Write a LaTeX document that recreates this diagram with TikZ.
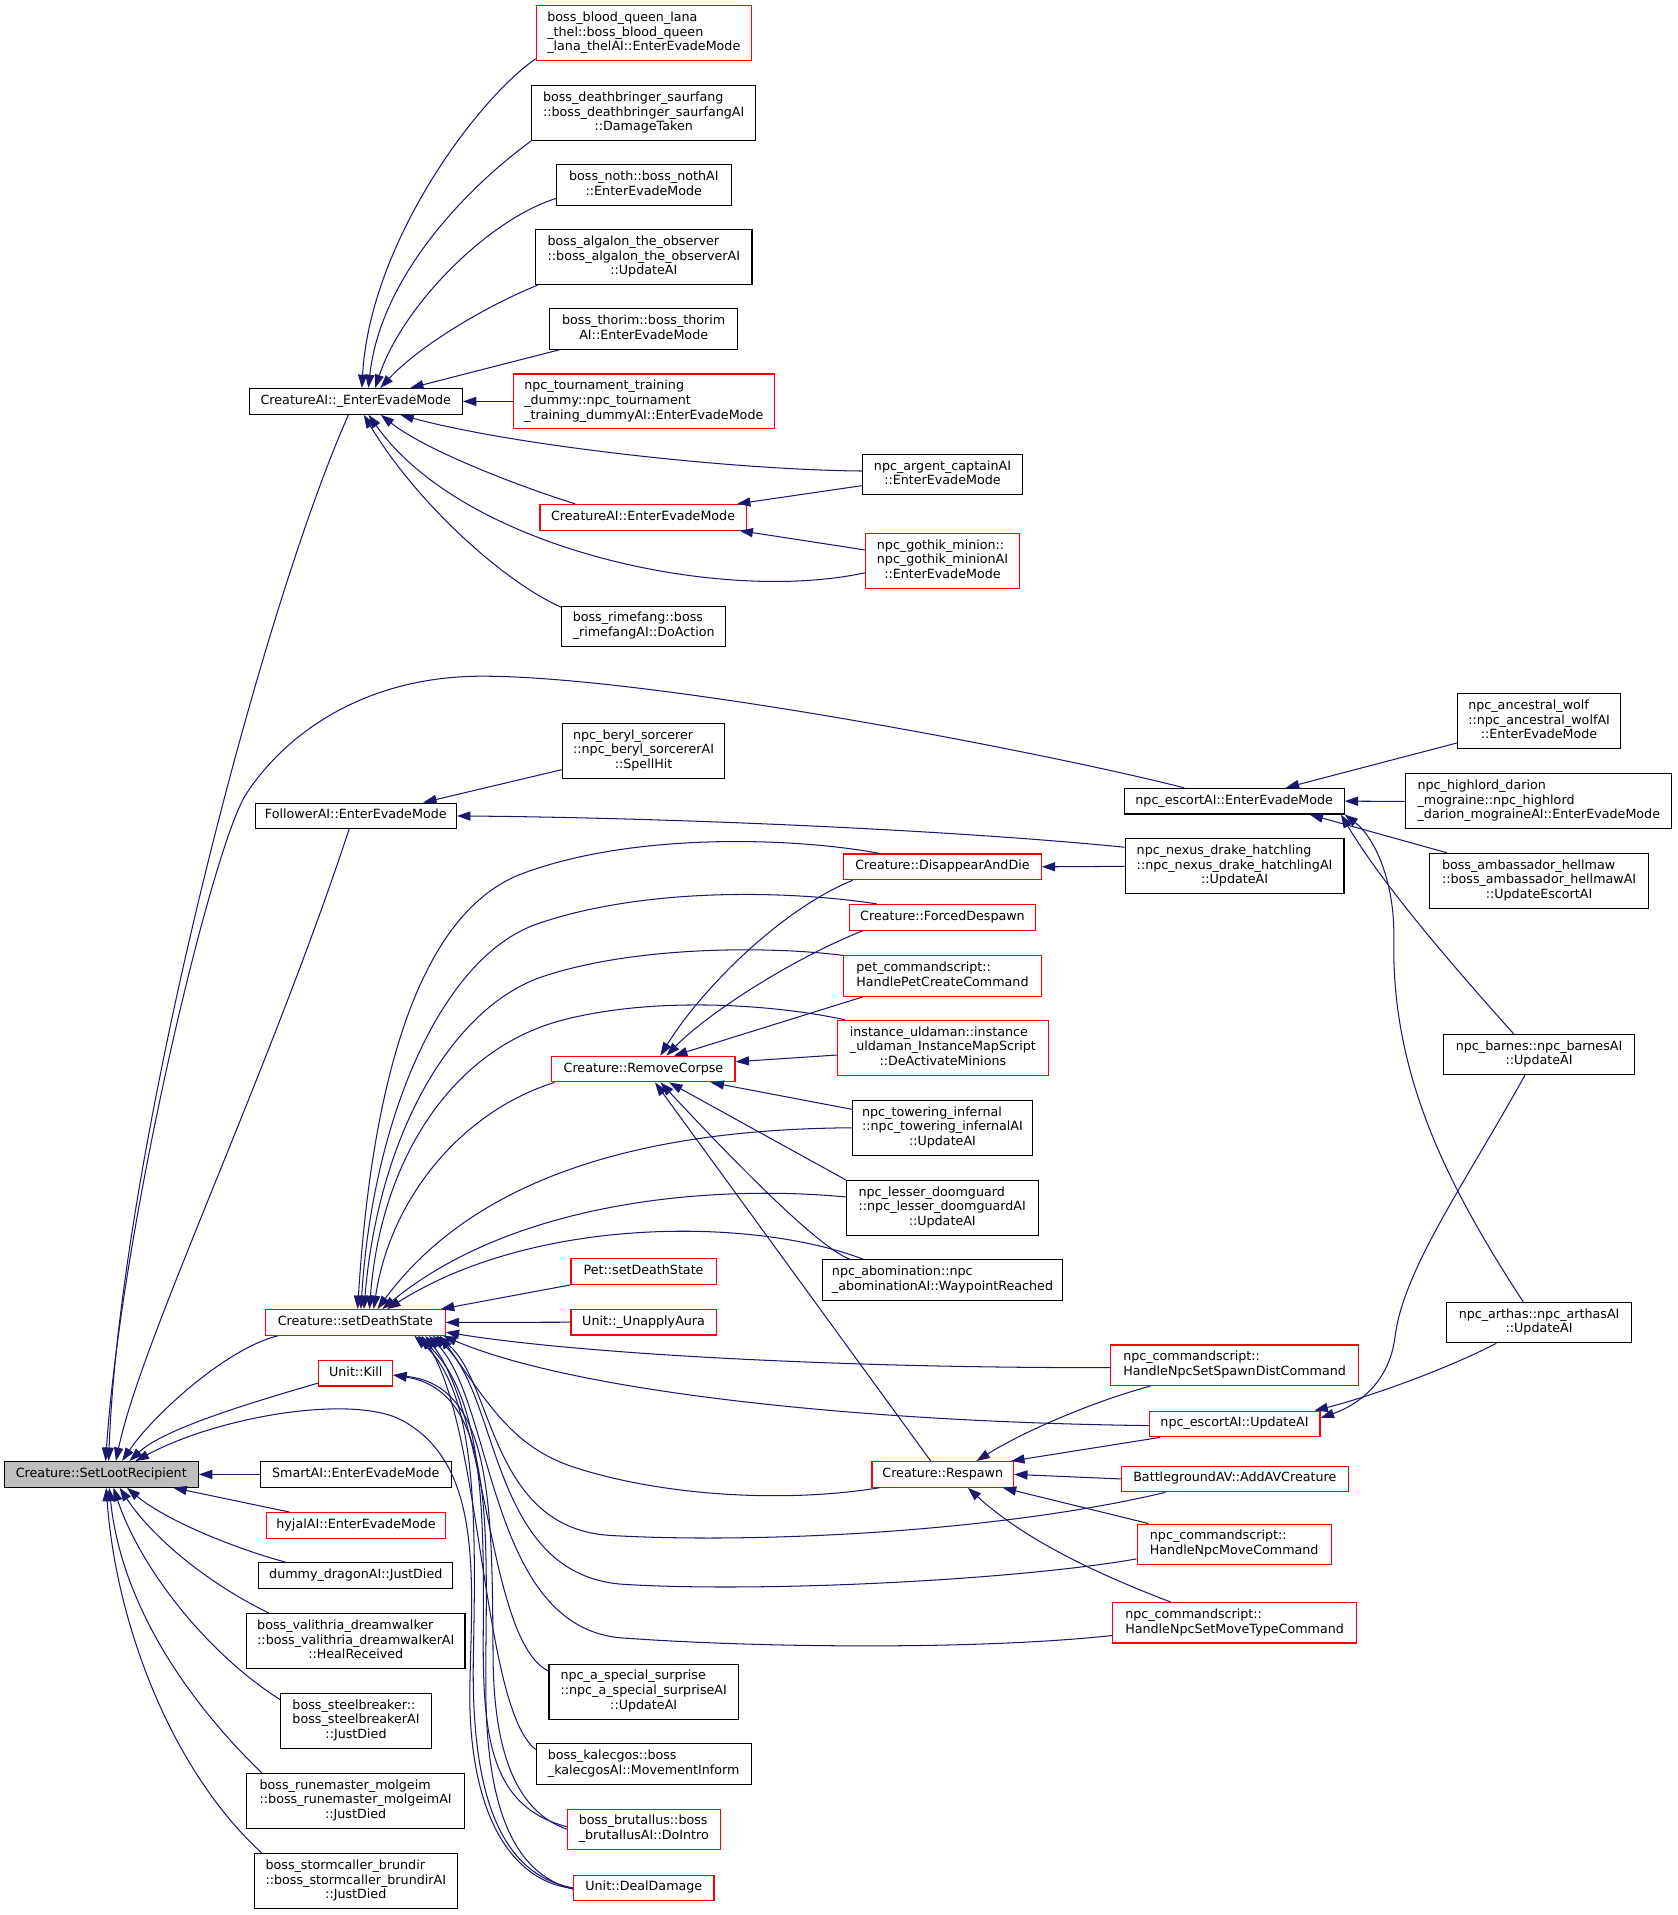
\documentclass[tikz,border=0pt]{standalone}
\usepackage{fontspec}
\setmainfont{DejaVu Sans}
\usetikzlibrary{arrows.meta,calc}
\definecolor{edgec}{HTML}{191970}
\definecolor{redb}{HTML}{FF0000}
\definecolor{grayf}{HTML}{BFBFBF}
\newcommand\Lone[1]{\begin{tabular}{@{}c@{}}#1\end{tabular}}
\newcommand\Lmul[2]{\begin{tabular}{@{}l@{}}#1\\\multicolumn{1}{@{}c@{}}{#2}\end{tabular}}
\begin{document}
\begin{tikzpicture}[x=1pt,y=-1pt,
 box/.style={draw=black, line width=0.9pt, inner sep=0pt, fill=white, font=\fontsize{10.4pt}{12pt}\selectfont},
 rbox/.style={box, draw=redb},
 gbox/.style={box, fill=grayf},
 e/.style={draw=edgec, line width=0.85pt, -{Triangle[length=11pt,width=7.5pt]}}]
\fill[white] (0,0) rectangle (1374,1569);
\useasboundingbox (0,0) rectangle (1374,1569);
% nodes
\node[rbox, minimum width=176.5pt, minimum height=45pt] (bq) at (527.5,27.1) {\Lmul{boss\_blood\_queen\_lana\\\_thel::boss\_blood\_queen}{\_lana\_thelAI::EnterEvadeMode}};
\node[box, minimum width=183.9pt, minimum height=45pt] (db) at (527.4,92.7) {\Lmul{boss\_deathbringer\_saurfang\\::boss\_deathbringer\_saurfangAI}{::DamageTaken}};
\node[box, minimum width=143pt, minimum height=33pt] (noth) at (527.5,151.6) {\Lmul{boss\_noth::boss\_nothAI}{::EnterEvadeMode}};
\node[box, minimum width=177.3pt, minimum height=45pt] (alg) at (527.5,210.7) {\Lmul{boss\_algalon\_the\_observer\\::boss\_algalon\_the\_observerAI}{::UpdateAI}};
\node[box, minimum width=154pt, minimum height=33pt] (thor) at (527.4,269.6) {\Lmul{boss\_thorim::boss\_thorim}{AI::EnterEvadeMode}};
\node[rbox, minimum width=214pt, minimum height=45pt] (tour) at (527.5,328.9) {\Lmul{npc\_tournament\_training\\\_dummy::npc\_tournament}{\_training\_dummyAI::EnterEvadeMode}};
\node[box, minimum width=174.7pt, minimum height=21pt] (cee) at (291.5,328.9) {\Lone{CreatureAI::\_EnterEvadeMode}};
\node[rbox, minimum width=169pt, minimum height=21pt] (cae) at (526.9,423.8) {\Lone{CreatureAI::EnterEvadeMode}};
\node[box, minimum width=134.7pt, minimum height=33pt] (rime) at (527.4,513.2) {\Lmul{boss\_rimefang::boss}{\_rimefangAI::DoAction}};
\node[box, minimum width=131.2pt, minimum height=33pt] (arg) at (772.2,388.9) {\Lmul{npc\_argent\_captainAI}{::EnterEvadeMode}};
\node[rbox, minimum width=126pt, minimum height=45pt] (goth) at (772.2,459.6) {\Lmul{npc\_gothik\_minion::\\npc\_gothik\_minionAI}{::EnterEvadeMode}};
\node[box, minimum width=133pt, minimum height=45pt] (beryl) at (527.3,615.3) {\Lmul{npc\_beryl\_sorcerer\\::npc\_beryl\_sorcererAI}{::SpellHit}};
\node[box, minimum width=165pt, minimum height=21pt] (fol) at (291.5,668.5) {\Lone{FollowerAI::EnterEvadeMode}};
\node[box, minimum width=133.4pt, minimum height=45pt] (wolf) at (1261,590.9) {\Lmul{npc\_ancestral\_wolf\\::npc\_ancestral\_wolfAI}{::EnterEvadeMode}};
\node[box, minimum width=218pt, minimum height=45pt] (high) at (1260.8,656.6) {\Lmul{npc\_highlord\_darion\\\_mograine::npc\_highlord}{\_darion\_mograineAI::EnterEvadeMode}};
\node[box, minimum width=180pt, minimum height=21pt] (esc) at (1011.2,656.4) {\Lone{npc\_escortAI::EnterEvadeMode}};
\node[box, minimum width=179.3pt, minimum height=45pt] (nexus) at (1011.5,709.8) {\Lmul{npc\_nexus\_drake\_hatchling\\::npc\_nexus\_drake\_hatchlingAI}{::UpdateAI}};
\node[box, minimum width=179.8pt, minimum height=45pt] (amb) at (1261,721.7) {\Lmul{boss\_ambassador\_hellmaw\\::boss\_ambassador\_hellmawAI}{::UpdateEscortAI}};
\node[rbox, minimum width=161.8pt, minimum height=21pt] (dis) at (772.2,710.2) {\Lone{Creature::DisappearAndDie}};
\node[rbox, minimum width=153pt, minimum height=21pt] (fdes) at (772.2,751.5) {\Lone{Creature::ForcedDespawn}};
\node[rbox, minimum width=162.7pt, minimum height=33pt] (pet) at (772.2,799.7) {\Lmul{pet\_commandscript::}{HandlePetCreateCommand}};
\node[rbox, minimum width=172.9pt, minimum height=45pt] (uld) at (772.5,858.5) {\Lmul{instance\_uldaman::instance\\\_uldaman\_InstanceMapScript}{::DeActivateMinions}};
\node[box, minimum width=156pt, minimum height=33pt] (barnes) at (1261,864) {\Lmul{npc\_barnes::npc\_barnesAI}{::UpdateAI}};
\node[rbox, minimum width=150pt, minimum height=21pt] (rc) at (527.2,875.9) {\Lone{Creature::RemoveCorpse}};
\node[box, minimum width=147.8pt, minimum height=45pt] (tow) at (772.2,924) {\Lmul{npc\_towering\_infernal\\::npc\_towering\_infernalAI}{::UpdateAI}};
\node[box, minimum width=157pt, minimum height=45pt] (less) at (772,989.7) {\Lmul{npc\_lesser\_doomguard\\::npc\_lesser\_doomguardAI}{::UpdateAI}};
\node[box, minimum width=197pt, minimum height=33pt] (abom) at (772.2,1048.7) {\Lmul{npc\_abomination::npc}{\_abominationAI::WaypointReached}};
\node[rbox, minimum width=119pt, minimum height=21pt] (petds) at (527.3,1041.8) {\Lone{Pet::setDeathState}};
\node[rbox, minimum width=119pt, minimum height=21pt] (ua) at (527.3,1083.3) {\Lone{Unit::\_UnapplyAura}};
\node[rbox, minimum width=147pt, minimum height=21pt] (sds) at (291.2,1083.5) {\Lone{Creature::setDeathState}};
\node[box, minimum width=151pt, minimum height=33pt] (arth) at (1261,1083.6) {\Lmul{npc\_arthas::npc\_arthasAI}{::UpdateAI}};
\node[rbox, minimum width=203pt, minimum height=33pt] (ssd) at (1011.5,1118.5) {\Lmul{npc\_commandscript::}{HandleNpcSetSpawnDistCommand}};
\node[rbox, minimum width=60.4pt, minimum height=21pt] (kill) at (291.5,1125.1) {\Lone{Unit::Kill}};
\node[rbox, minimum width=140pt, minimum height=21pt] (eua) at (1011.5,1166.7) {\Lone{npc\_escortAI::UpdateAI}};
\node[gbox, minimum width=159pt, minimum height=21pt] (slr) at (83,1208) {\Lone{Creature::SetLootRecipient}};
\node[box, minimum width=156.3pt, minimum height=21pt] (smart) at (291.5,1208) {\Lone{SmartAI::EnterEvadeMode}};
\node[rbox, minimum width=116pt, minimum height=21pt] (resp) at (772.4,1208) {\Lone{Creature::Respawn}};
\node[rbox, minimum width=186pt, minimum height=21pt] (bav) at (1011.7,1211.7) {\Lone{BattlegroundAV::AddAVCreature}};
\node[rbox, minimum width=146pt, minimum height=21pt] (hyj) at (291.7,1249.8) {\Lone{hyjalAI::EnterEvadeMode}};
\node[rbox, minimum width=159pt, minimum height=33pt] (move) at (1011.2,1265.2) {\Lmul{npc\_commandscript::}{HandleNpcMoveCommand}};
\node[box, minimum width=159pt, minimum height=21pt] (dum) at (291.5,1291) {\Lone{dummy\_dragonAI::JustDied}};
\node[rbox, minimum width=199.5pt, minimum height=33pt] (mtype) at (1011.5,1329.6) {\Lmul{npc\_commandscript::}{HandleNpcSetMoveTypeCommand}};
\node[box, minimum width=179pt, minimum height=45pt] (val) at (291.5,1344.7) {\Lmul{boss\_valithria\_dreamwalker\\::boss\_valithria\_dreamwalkerAI}{::HealReceived}};
\node[box, minimum width=155.2pt, minimum height=45pt] (sur) at (527.4,1386) {\Lmul{npc\_a\_special\_surprise\\::npc\_a\_special\_surpriseAI}{::UpdateAI}};
\node[box, minimum width=123.3pt, minimum height=45pt] (steel) at (291.7,1410) {\Lmul{boss\_steelbreaker::\\boss\_steelbreakerAI}{::JustDied}};
\node[box, minimum width=176pt, minimum height=33pt] (kal) at (527.4,1445.3) {\Lmul{boss\_kalecgos::boss}{\_kalecgosAI::MovementInform}};
\node[box, minimum width=178.2pt, minimum height=45pt] (rune) at (291.4,1475.5) {\Lmul{boss\_runemaster\_molgeim\\::boss\_runemaster\_molgeimAI}{::JustDied}};
\node[rbox, minimum width=125pt, minimum height=33pt] (brut) at (527.5,1498.7) {\Lmul{boss\_brutallus::boss}{\_brutallusAI::DoIntro}};
\node[box, minimum width=166pt, minimum height=45pt] (storm) at (291.5,1541.2) {\Lmul{boss\_stormcaller\_brundir\\::boss\_stormcaller\_brundirAI}{::JustDied}};
\node[rbox, minimum width=115pt, minimum height=21pt] (dd) at (527.5,1546.8) {\Lone{Unit::DealDamage}};
% edges into CreatureAI::_EnterEvadeMode
\draw[e] ($(bq.south west)+(0,-1.8)$) .. controls (390,82) and (303,200) .. ($(cee.north)+(5,0)$);
\draw[e] (db.south west) .. controls (385,152) and (312,225) .. ($(cee.north)+(10.3,0)$);
\draw[e] ($(noth.west)+(0,11)$) .. controls (400,180) and (330,250) .. ($(cee.north)+(15.8,0)$);
\draw[e] ($(alg.south west)+(2,0)$) .. controls (400,250) and (345,282) .. ($(cee.north)+(20,0)$);
\draw[e] ($(thor.south west)+(8.5,0)$) -- ($(cee.north)+(44.5,0)$);
\draw[e] (tour.west) -- (cee.east);
\draw[e] ($(arg.west)+(0,-3)$) .. controls (600,385) and (420,365) .. ($(cee.south)+(36.5,0)$);
\draw[e] ($(cae.north west)+(29.4,0)$) .. controls (430,400) and (350,370) .. ($(cee.south)+(20.5,0)$);
\draw[e] ($(goth.west)+(0,9.7)$) .. controls (590,495) and (380,450) .. ($(cee.south)+(10.5,0)$);
\draw[e] ($(rime.north west)+(0,1.2)$) .. controls (410,475) and (340,410) .. ($(cee.south)+(6.5,0)$);
% into CreatureAI::EnterEvadeMode
\draw[e] ($(arg.west)+(0,9)$) -- ($(cae.north east)+(-8,0)$);
\draw[e] ($(goth.west)+(0,-9)$) -- ($(cae.south east)+(-6,0)$);
% into SetLootRecipient (top)
\draw[e] ($(cee.south)+(-6,0)$) .. controls (212,505) and (98,950) .. ($(slr.north)+(6,0)$);
\draw[e] ($(esc.north)+(-41,0)$) .. controls (850,615) and (530,554) .. (395,554) .. controls (300,554) and (235,600) .. (202,650) .. controls (175,690) and (100,1000) .. ($(slr.north)+(3.5,0)$);
\draw[e] ($(fol.south)+(-5.5,0)$) .. controls (220,880) and (115,1100) .. ($(slr.north)+(12,0)$);
\draw[e] ($(sds.south west)+(10.3,0)$) .. controls (185,1105) and (125,1160) .. ($(slr.north)+(17,0)$);
\draw[e] ($(kill.west)+(0,8)$) .. controls (210,1148) and (135,1170) .. ($(slr.north)+(23,0)$);
\draw[e] ($(dd.west)+(0,0.5)$) .. controls (410,1540) and (383,1470) .. (385,1380) .. controls (387,1290) and (395,1200) .. (330,1164) .. controls (290,1142) and (180,1160) .. ($(slr.north)+(28,0)$);
% into SetLootRecipient (right / below)
\draw[e] (smart.west) -- (slr.east);
\draw[e] ($(hyj.north west)+(19,0)$) -- ($(slr.south)+(59,0)$);
\draw[e] ($(dum.north west)+(23,0)$) .. controls (190,1268) and (135,1245) .. ($(slr.south)+(21,0)$);
\draw[e] ($(val.north west)+(19,0)$) .. controls (170,1297) and (125,1260) .. ($(slr.south)+(15,0)$);
\draw[e] ($(steel.north west)+(0,5.5)$) .. controls (170,1355) and (115,1285) .. ($(slr.south)+(10,0)$);
\draw[e] ($(rune.north west)+(12.7,0)$) .. controls (160,1400) and (100,1320) .. ($(slr.south)+(6.5,0)$);
\draw[e] ($(storm.north west)+(6.5,0)$) .. controls (140,1450) and (95,1330) .. ($(slr.south)+(4,0)$);
% into FollowerAI
\draw[e] ($(beryl.west)+(0,15.3)$) -- ($(fol.north)+(55.2,0)$);
\draw[e] ($(nexus.north west)+(0,7.3)$) .. controls (780,680) and (550,670) .. (fol.east);
% into npc_escortAI::EnterEvadeMode
\draw[e] ($(wolf.west)+(0,17.8)$) -- ($(esc.north)+(42.2,0)$);
\draw[e] (high.west) -- (esc.east);
\draw[e] ($(amb.north west)+(15,0)$) -- ($(esc.south)+(61.8,0)$);
\draw[e] ($(barnes.north)+(-20.8,0)$) .. controls (1180,780) and (1130,720) .. ($(esc.south east)+(-3,0)$);
\draw[e] ($(arth.north)+(-13,0)$) .. controls (1185,970) and (1140,880) .. (1142,770) .. controls (1143,720) and (1125,685) .. (esc.south east);
% into npc_escortAI::UpdateAI
\draw[e] ($(barnes.south)+(-11.6,0)$) .. controls (1200,970) and (1150,1040) .. (1143,1095) .. controls (1138,1135) and (1110,1152) .. ($(eua.north east)+(0,6)$);
\draw[e] ($(arth.south)+(-35,0)$) .. controls (1185,1122) and (1120,1145) .. ($(eua.north east)+(-5,0)$);
% into DisappearAndDie
\draw[e] (nexus.west) -- (dis.east);
% into RemoveCorpse
\draw[e] ($(dis.south west)+(7.9,0)$) .. controls (640,745) and (575,810) .. ($(rc.north)+(13.8,0)$);
\draw[e] ($(fdes.south)+(-64.9,0)$) .. controls (650,785) and (580,830) .. ($(rc.north)+(18.8,0)$);
\draw[e] ($(pet.south)+(-64.9,0)$) -- ($(rc.north)+(25,0)$);
\draw[e] ($(uld.west)+(0,5.9)$) -- ($(rc.east)+(0,-6)$);
\draw[e] ($(tow.north west)+(0,7.8)$) -- ($(rc.south)+(55,0)$);
\draw[e] (less.north west) -- ($(rc.south)+(21,0)$);
\draw[e] ($(abom.north)+(-75.8,0)$) .. controls (670,1022) and (600,950) .. ($(rc.south)+(14,0)$);
\draw[e] ($(resp.north)+(-9.8,0)$) -- ($(rc.south)+(9.5,0)$);
% into setDeathState (top)
\draw[e] ($(dis.north)+(-51.2,0)$) .. controls (650,686) and (520,682) .. (430,715) .. controls (345,745) and (305,880) .. ($(sds.north)+(1.8,0)$);
\draw[e] ($(fdes.north)+(-53.9,0)$) .. controls (650,730) and (530,726) .. (440,757) .. controls (360,785) and (305,920) .. ($(sds.north)+(4.5,0)$);
\draw[e] ($(pet.north west)+(0.2,0)$) .. controls (630,775) and (520,775) .. (445,800) .. controls (370,825) and (310,930) .. ($(sds.north)+(7,0)$);
\draw[e] ($(uld.north)+(-80.2,0)$) .. controls (640,824) and (540,815) .. (460,836) .. controls (370,860) and (312,950) .. ($(sds.north)+(11.5,0)$);
\draw[e] ($(rc.south west)+(2.6,0)$) .. controls (380,910) and (320,980) .. ($(sds.north)+(15,0)$);
\draw[e] (tow.west) .. controls (560,925) and (400,950) .. ($(sds.north)+(18,0)$);
\draw[e] ($(less.west)+(0,-9)$) .. controls (580,970) and (420,985) .. ($(sds.north)+(22,0)$);
\draw[e] ($(abom.north)+(-64.9,0)$) .. controls (620,998) and (440,995) .. ($(sds.north)+(26,0)$);
\draw[e] (petds.south west) -- ($(sds.north east)+(-4,0)$);
\draw[e] (ua.west) -- (sds.east);
% into setDeathState (right / bottom)
\draw[e] ($(ssd.west)+(0,2)$) .. controls (700,1121) and (480,1110) .. ($(sds.south east)+(0,-3)$);
\draw[e] ($(eua.west)+(0,1.3)$) .. controls (700,1165) and (470,1140) .. ($(sds.south east)+(-2,0)$);
\draw[e] ($(resp.south west)+(6.6,0)$) .. controls (640,1232) and (540,1225) .. (470,1202) .. controls (420,1185.6) and (400,1150) .. ($(sds.south east)+(-4.7,0)$);
\draw[e] ($(bav.south)+(-56.7,0)$) .. controls (820,1255) and (620,1265) .. (500,1258) .. controls (400,1252) and (405,1130) .. ($(sds.south east)+(-7.7,0)$);
\draw[e] ($(move.west)+(0,12)$) .. controls (830,1295) and (620,1305) .. (510,1298) .. controls (400,1290) and (410,1140) .. ($(sds.south east)+(-10.7,0)$);
\draw[e] ($(mtype.west)+(0,10.4)$) .. controls (800,1352) and (620,1350) .. (510,1342) .. controls (400,1334) and (405,1150) .. ($(sds.south east)+(-13.7,0)$);
\draw[e] ($(sur.north west)+(0,6)$) .. controls (400,1345) and (400,1160) .. ($(sds.south east)+(-16.7,0)$);
\draw[e] ($(kal.north west)+(0,5)$) .. controls (395,1400) and (395,1170) .. ($(sds.south east)+(-19.7,0)$);
\draw[e] ($(brut.west)+(0,-2)$) .. controls (400,1480) and (395,1420) .. (396,1330) .. controls (397,1220) and (392,1140) .. ($(sds.south east)+(-22.7,0)$);
\draw[e] (dd.west) .. controls (405,1535) and (385,1460) .. (388,1350) .. controls (390,1240) and (390,1140) .. ($(sds.south east)+(-25.7,0)$);
% into Unit::Kill
\draw[e] (brut.west) .. controls (425,1485) and (405,1440) .. (404,1360) .. controls (403,1240) and (405,1135) .. ($(kill.east)+(0,1.5)$);
\draw[e] ($(dd.west)+(0,1)$) .. controls (420,1535) and (398,1480) .. (398,1380) .. controls (398,1260) and (408,1140) .. ($(kill.east)+(0,1.5)$);
% into Creature::Respawn
\draw[e] ($(ssd.south)+(-68.5,0)$) .. controls (890,1150) and (835,1175) .. ($(resp.north)+(27.6,0)$);
\draw[e] ($(eua.south)+(-60.9,0)$) -- ($(resp.north east)+(-2.4,0)$);
\draw[e] (bav.west) -- (resp.east);
\draw[e] ($(move.north)+(-70.2,0)$) -- ($(resp.south)+(49.2,0)$);
\draw[e] ($(mtype.north)+(-52.1,0)$) .. controls (900,1290) and (840,1262) .. ($(resp.south)+(20.6,0)$);
\end{tikzpicture}
\end{document}
